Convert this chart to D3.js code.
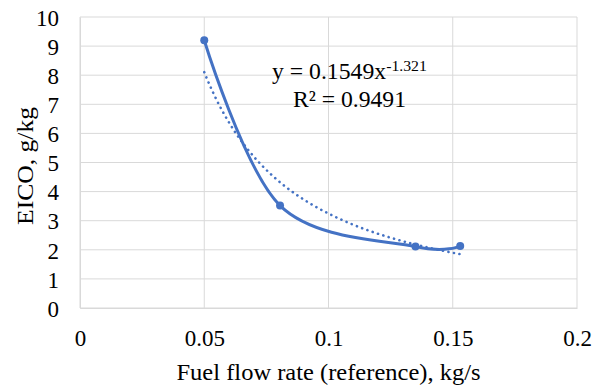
<!DOCTYPE html>
<html>
<head>
<meta charset="utf-8">
<script src="https://cdn.jsdelivr.net/npm/d3@7"></script>
<style>
  html, body { margin: 0; padding: 0; background: #fff; }
  svg text { font-family: "Liberation Serif", "Times New Roman", serif; fill: #000; }
</style>
</head>
<body>
<svg id="chart" width="598" height="388"></svg>
<script>
// data
const fuelFlow = [0.05, 0.0805, 0.135, 0.153];
const eico = [9.2, 3.52, 2.11, 2.13];
const xTicks = [0, 0.05, 0.1, 0.15, 0.2];
const yTicks = [0, 1, 2, 3, 4, 5, 6, 7, 8, 9, 10];
// power trendline as printed on the chart: y = a * x^b
const trendA = 0.1549;
const trendB = -1.321;
const trendR2 = 0.9491;

const margin = { top: 17, right: 21, bottom: 80, left: 80 };
const width = 598, height = 388;
const blue = '#4472C4';
const grid = '#d9d9d9';
const serif = '"Liberation Serif", "Times New Roman", serif';

const svg = d3.select('#chart');

const x = d3.scaleLinear().domain([0, 0.2]).range([margin.left, width - margin.right]);
const y = d3.scaleLinear().domain([0, 10]).range([height - margin.bottom, margin.top]);

// stretch a text horizontally to a given width (reference text is a bit wide)
function fitWidth(sel, w) {
  sel.attr('textLength', w).attr('lengthAdjust', 'spacingAndGlyphs');
}

// gridlines
svg.append('g')
  .selectAll('line')
  .data(yTicks)
  .join('line')
    .attr('x1', x(0)).attr('x2', x(0.2))
    .attr('y1', d => y(d)).attr('y2', d => y(d))
    .attr('stroke', grid).attr('stroke-width', 1);

svg.append('g')
  .selectAll('line')
  .data(xTicks)
  .join('line')
    .attr('x1', d => x(d)).attr('x2', d => x(d))
    .attr('y1', y(0)).attr('y2', y(10))
    .attr('stroke', grid).attr('stroke-width', 1);

// axes (labels only, Excel style)
const xAxis = svg.append('g')
  .attr('transform', `translate(0, ${y(0)})`)
  .call(d3.axisBottom(x).tickValues(xTicks).tickFormat(d => d3.format('~g')(d)).tickSize(0).tickPadding(22));
xAxis.select('.domain').attr('stroke', grid);
xAxis.selectAll('text').style('font-size', '23px').style('font-family', serif);

const yAxis = svg.append('g')
  .attr('transform', `translate(${x(0)}, 0)`)
  .call(d3.axisLeft(y).tickValues(yTicks).tickSize(0).tickPadding(21));
yAxis.select('.domain').attr('stroke', grid);
yAxis.selectAll('text').style('font-size', '23px').style('font-family', serif).attr('dy', '0.36em');

// axis titles
svg.append('text')
  .attr('x', 328.5)
  .attr('y', 380)
  .attr('text-anchor', 'middle')
  .style('font-size', '22.5px')
  .text('Fuel flow rate (reference), kg/s')
  .call(fitWidth, 304);

svg.append('text')
  .attr('transform', 'translate(33, 166) rotate(-90)')
  .attr('text-anchor', 'middle')
  .style('font-size', '22.5px')
  .text('EICO, g/kg')
  .call(fitWidth, 118);

// trendline
const xMin = d3.min(fuelFlow), xMax = d3.max(fuelFlow);
const trendPts = d3.range(0, 101).map(i => {
  const xv = xMin + (xMax - xMin) * i / 100;
  return [xv, trendA * Math.pow(xv, trendB)];
});
svg.append('path')
  .datum(trendPts)
  .attr('fill', 'none')
  .attr('stroke', blue)
  .attr('stroke-width', 2.6)
  .attr('stroke-linecap', 'round')
  .attr('stroke-dasharray', '0.1 5.5')
  .attr('d', d3.line().x(d => x(d[0])).y(d => y(d[1])));

// smoothed data line
const pts = fuelFlow.map((f, i) => [f, eico[i]]);
svg.append('path')
  .datum(pts)
  .attr('fill', 'none')
  .attr('stroke', blue)
  .attr('stroke-width', 3)
  .attr('stroke-linecap', 'round')
  .attr('d', d3.line().x(d => x(d[0])).y(d => y(d[1])).curve(d3.curveCardinal.tension(0)));

svg.append('g')
  .selectAll('circle')
  .data(pts)
  .join('circle')
    .attr('cx', d => x(d[0]))
    .attr('cy', d => y(d[1]))
    .attr('r', 4)
    .attr('fill', blue);

// equation label
const eqG = svg.append('g');
const eq = eqG.append('text')
  .attr('x', 0)
  .attr('y', 0)
  .style('font-size', '22.5px');
eq.append('tspan').text(`y = ${trendA}x`);
eq.append('tspan').attr('dy', -8).style('font-size', '15px').text(`${trendB}`);
const eqW = eq.node().getComputedTextLength();
eqG.attr('transform', `translate(272, 79) scale(${155 / eqW}, 1)`);

svg.append('text')
  .attr('x', 349.5)
  .attr('y', 107)
  .attr('text-anchor', 'middle')
  .style('font-size', '22.5px')
  .text(`R² = ${trendR2}`)
  .call(fitWidth, 113);
</script>
</body>
</html>
